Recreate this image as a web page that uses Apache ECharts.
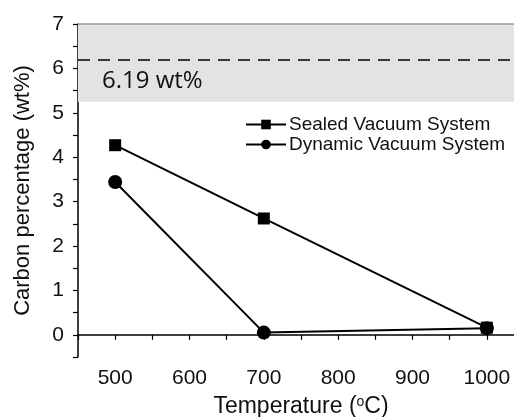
<!DOCTYPE html>
<html><head><meta charset="utf-8">
<script src="https://cdn.jsdelivr.net/npm/echarts@6/dist/echarts.min.js"></script>
<style>html,body{margin:0;padding:0;background:#fff}#c{width:514px;height:417px}</style>
</head><body><div id="c"></div>
<script>
const temps = [500, 700, 1000];
const sealed = [4.27, 2.62, 0.16];
const dynamicVac = [3.44, 0.05, 0.15];
const refLevel = 6.19;
const bandFrom = 5.25;
const bandTo = 7;
const xLabels = [500, 600, 700, 800, 900, 1000];
const xTicks = [450, 500, 550, 600, 650, 700, 750, 800, 850, 900, 950, 1000, 1050];
const yLabels = [0, 1, 2, 3, 4, 5, 6, 7];

const chart = echarts.init(document.getElementById('c'));
const font = 'Liberation Sans, Arial, sans-serif';
chart.setOption({
  animation: false,
  grid: {left: 78, right: -10, top: 24, bottom: 60, containLabel: false, outerBoundsMode: 'none'},
  legend: {
    orient: 'vertical', left: 240, top: 110, itemGap: 1,
    itemWidth: 40, itemHeight: 12,
    textStyle: {fontFamily: font, fontSize: 19, color: '#111', padding: [0,0,0,-2]},
    data: ['Sealed Vacuum System', 'Dynamic Vacuum System']
  },
  xAxis: {
    type: 'value', min: 450, max: 1050, interval: 50,
    name: 'Temperature ({s|o}C)', nameLocation: 'middle', nameGap: 38,
    nameTextStyle: {fontFamily: font, fontSize: 23, color: '#111',
      rich: {s: {fontSize: 14, verticalAlign: 'top', padding: [0,0,10,0], fontFamily: font, color:'#111'}}},
    axisLine: {lineStyle: {color: '#000', width: 1.5}},
    axisTick: {show: true, customValues: xTicks, length: 5, lineStyle: {color: '#000', width: 1.2}},
    axisLabel: {customValues: xLabels, formatter: v => String(v), fontFamily: font, fontSize: 21, color: '#111', margin: 11},
    splitLine: {show: false}
  },
  yAxis: {
    type: 'value', min: -0.5, max: 7, interval: 0.5,
    name: 'Carbon percentage (wt%)', nameLocation: 'middle', nameGap: 44,
    nameTextStyle: {fontFamily: font, fontSize: 22, color: '#111'},
    axisLine: {show: true, lineStyle: {color: '#000', width: 1.5}},
    axisTick: {length: 5, lineStyle: {color: '#000', width: 1.2}},
    axisLabel: {customValues: yLabels, fontFamily: font, fontSize: 21, color: '#111', margin: 14},
    splitLine: {show: false}
  },
  series: [
    {
      name: 'Sealed Vacuum System', type: 'line',
      data: temps.map((t, i) => [t, sealed[i]]),
      symbol: 'rect', symbolSize: 12,
      lineStyle: {color: '#000', width: 2}, itemStyle: {color: '#000'},
      z: 5,
      markArea: {
        silent: true,
        itemStyle: {color: '#e3e3e3'},
        data: [[{yAxis: bandFrom}, {yAxis: bandTo}]]
      },
      markLine: {
        silent: true, symbol: 'none',
        data: [
          {yAxis: refLevel, lineStyle: {color: '#000', width: 1.6, type: [12, 8]},
           label: {show: true, position: 'insideStartBottom', formatter: '6.19 wt%',
             fontFamily: 'Open Sans, sans-serif', fontSize: 24, color: '#111', distance: [24, 9]}},
          {yAxis: bandTo, lineStyle: {color: '#9a9a9a', width: 1.5, type: 'solid'}, label: {show: false}}
        ]
      }
    },
    {
      name: 'Dynamic Vacuum System', type: 'line',
      data: temps.map((t, i) => [t, dynamicVac[i]]),
      symbol: 'circle', symbolSize: 14,
      lineStyle: {color: '#000', width: 2}, itemStyle: {color: '#000'},
      z: 4
    }
  ]
});
</script></body></html>
